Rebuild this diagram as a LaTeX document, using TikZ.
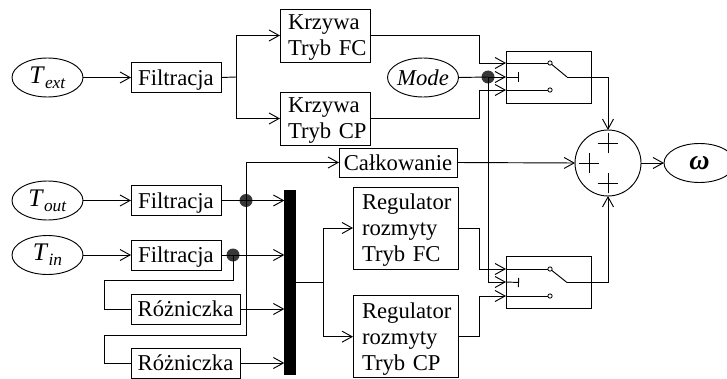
\documentclass[tikz,border=0pt]{standalone}
\usepackage{fontspec}
\setmainfont{Liberation Serif}
\usetikzlibrary{positioning,arrows.meta,shapes.geometric,shapes.misc}
\tikzset{
  >={Straight Barb[length=7.5pt,width=8.25pt]},
  every path/.style={line width=.7pt},
  every node/.style={font=\fontsize{17}{19.5}\selectfont,inner sep=0pt,outer sep=0pt,align=center},
  box/.style={draw,minimum width=67.5pt,minimum height=22.5pt},
  filtbox/.style={box,text depth=0pt},
  krzywabox/.style={box,text width=61.5pt,minimum height=39.75pt,align=left,execute at begin node={\leftskip=3pt}},
  rozbox/.style={box,minimum width=81.75pt},
  regbox/.style={box,text width=78.75pt,minimum height=61.5pt,align=left,execute at begin node={\leftskip=6.75pt}},
  swbox/.style={draw,minimum width=63.75pt,minimum height=39pt},
  signal/.style={draw,ellipse,inner sep=-14pt,minimum width=53.25pt,minimum height=29.25pt},
  joint/.style={circle,fill=black!78,minimum size=9.75pt},
  contact/.style={circle,draw,fill=white,minimum size=3.2pt,line width=.6pt},
  plus/.style={draw,cross out,rotate=45,minimum size=11.1pt},
}
\newcommand{\sigtext}[2]{{\fontsize{19}{19}\selectfont\textit{#1}}\raisebox{-3.5pt}{\fontsize{13}{13}\selectfont\textit{#2}}}
\begin{document}
\begin{tikzpicture}[x=.75pt,y=-.75pt]
\useasboundingbox (0,0) rectangle (727,378);
% top row
\node[signal] (text) at (47.5,77.5) {\sigtext{T}{ext}};
\node[filtbox,right=36pt of text] (filtext) {Filtracja};
\node[krzywabox] (krzfc) at (325,35.5) {Krzywa\\\smash{Tryb FC}};
\node[krzywabox,below=22.5pt of krzfc] (krzcp) {Krzywa\\\smash{Tryb CP}};
\node[signal] (mode) at (423,77.5) {\textit{Mode}};
\node[joint] (jmode) at (488,77) {};
% inputs
\node[signal] (tout) at (47.5,200.5) {\sigtext{T}{out}};
\node[filtbox,right=36pt of tout] (filtout) {Filtracja};
\node[signal] (tin) at (47.5,255) {\sigtext{T}{in}};
\node[filtbox,right=36pt of tin] (filtin) {Filtracja};
\node[rozbox] (rozn1) at (185.5,309) {Różniczka};
\node[rozbox] (rozn2) at (185.5,363) {Różniczka};
\node[joint] (jout) at (246,200.5) {};
\node[joint] (jin) at (233,255) {};
\node[draw,fill=black,minimum width=8.5pt,minimum height=138.25pt] (bar) at (290,282.5) {};
\node[box,minimum width=88.5pt,minimum height=21.75pt] (calk) at (398,162.5) {Całkowanie};
\node[regbox] (regfc) at (405.5,228) {Regulator\\rozmyty\\\smash{Tryb FC}};
\node[regbox,below=20pt of regfc] (regcp) {Regulator\\rozmyty\\\smash{Tryb CP}};
% switches
\node[swbox] (sw1) at (548.5,77) {};
\node[swbox,below=114.75pt of sw1] (sw2) {};
\node[contact] (sw1a) at (550,63) {};
\node[contact] (sw1b) at (550,90) {};
\node[contact] (sw2a) at (550,269) {};
\node[contact] (sw2b) at (550,296) {};
\coordinate (sw1t) at (519,77);
\coordinate (sw1o) at (567,77);
\coordinate (sw2t) at (519,282.5);
\coordinate (sw2o) at (567,282.5);
\coordinate (sw1c) at (479,63);
\coordinate (sw1d) at (479,90);
\coordinate (sw2c) at (479,269);
\coordinate (sw2d) at (479,296);
% sum
\node[draw,circle,minimum size=49.5pt] (sum) at (608,163) {};
\node[plus] (plustop) at (608,143) {};
\node[plus] (plusbot) at (608,183) {};
\node[plus] (plusleft) at (589,163) {};
\node[signal,right=17.25pt of sum] (omega) {\fontsize{21}{21}\selectfont\textbf{\textit{ω}}};
% wires
\coordinate (splitext) at (236,77);
\coordinate (splitreg) at (323,282.5);
\coordinate (loopin) at (104,280);
\coordinate (loopout) at (104,335);
\draw[->] (text.east) -- (filtext.west);
\draw (filtext.east) -- (splitext);
\draw[->] (splitext) |- (krzfc.west);
\draw[->] (splitext) |- (krzcp.west);
\draw[->] (krzfc.east) -| (sw1c) -- (sw1.west |- sw1c);
\draw[->] (krzcp.east) -| (sw1d) -- (sw1.west |- sw1d);
\draw (sw1.west |- sw1a) -- (sw1a);
\draw (sw1.west |- sw1b) -- (sw1b);
\draw (mode.east) -- (jmode.center);
\draw[->] (jmode.center) -- (sw1.west);
\draw[-{Bar[width=7pt]}] (sw1.west) -- (sw1t);
\draw (sw1a) -- (sw1o);
\draw[->] (sw1o) -| (sum.north);
\draw[->] (tout.east) -- (filtout.west);
\draw[->] (tin.east) -- (filtin.west);
\draw[->] (filtout.east) -- (bar.west |- filtout);
\draw[->] (filtin.east) -- (bar.west |- filtin);
\draw[->] (rozn1.east) -- (bar.west |- rozn1);
\draw[->] (rozn2.east) -- (bar.west |- rozn2);
\draw[->] (jout.center) |- (calk.west);
\draw[->] (calk.east) -- (sum.west);
\draw (jout.center) |- (loopout) |- (rozn2.west);
\draw (jin.center) |- (loopin) |- (rozn1.west);
\draw (bar.east) -- (splitreg);
\draw[->] (splitreg) |- (regfc.west);
\draw[->] (splitreg) |- (regcp.west);
\draw[->] (regfc.east) -| (sw2c) -- (sw2.west |- sw2c);
\draw[->] (regcp.east) -| (sw2d) -- (sw2.west |- sw2d);
\draw (sw2.west |- sw2a) -- (sw2a);
\draw (sw2.west |- sw2b) -- (sw2b);
\draw[->] (jmode.center) |- (sw2.west);
\draw[-{Bar[width=7pt]}] (sw2.west) -- (sw2t);
\draw (sw2a) -- (sw2o);
\draw[->] (sw2o) -| (sum.south);
\draw[->] (sum.east) -- (omega.west);
\end{tikzpicture}
\end{document}
